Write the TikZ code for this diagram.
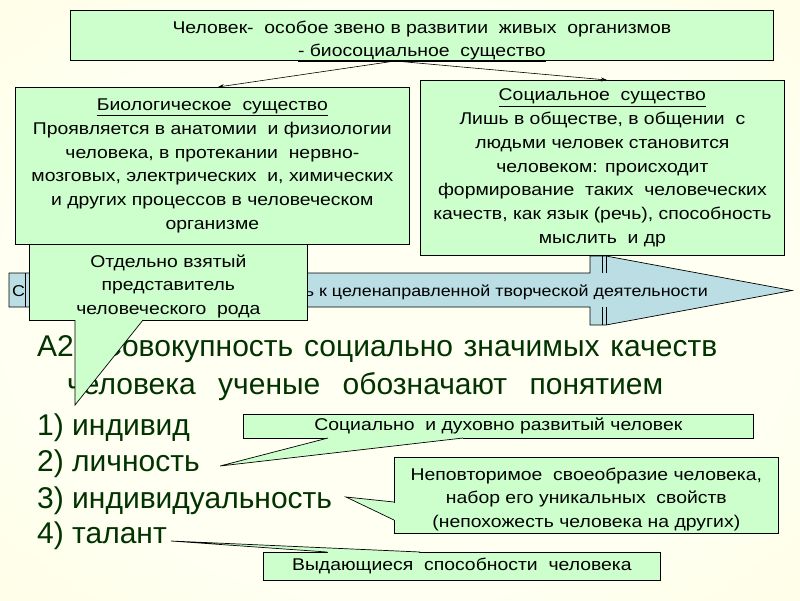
\documentclass[tikz,border=0pt]{standalone}
\usepackage{fontspec}
\setmainfont{Liberation Sans}
\newfontfamily\boxfont[FakeStretch=1.14]{Liberation Sans}
\usetikzlibrary{arrows.meta,calc}
\definecolor{boxgreen}{RGB}{204,255,204}
\definecolor{arrowblue}{RGB}{186,222,228}
\definecolor{darktext}{RGB}{0,51,0}
\definecolor{bgc}{RGB}{255,255,242}
\definecolor{bgm}{RGB}{255,253,215}
\definecolor{bge}{RGB}{252,246,160}
\pgfdeclareradialshading{bgshade}{\pgfpoint{0bp}{0bp}}{color(0bp)=(bgc); color(25bp)=(bgc); color(50bp)=(bgm); color(72bp)=(bge)}
\tikzset{
  greenbox/.style={draw=black, fill=boxgreen, line width=0.7pt, inner sep=2pt, align=center, anchor=north west,
    font=\boxfont\fontsize{17}{23.7}\selectfont},
  threeline/.style={text height=66pt, text depth=1.6pt},
  twoline/.style={text height=44pt, text depth=1.3pt},
  tailfill/.style={fill=boxgreen},
  tailline/.style={draw=black, line width=0.7pt},
  maintext/.style={text=darktext, font=\fontsize{30}{34}\selectfont, inner sep=0pt, anchor=base west},
  conn/.style={draw=black, line width=0.6pt, -{Stealth[length=6pt,width=4pt]}},
  bluearrow/.style={draw=black, fill=arrowblue, line width=0.7pt},
  arrowtext/.style={inner sep=0pt, font=\boxfont\fontsize{15.7}{18}\selectfont}
}
\begin{document}
\begin{tikzpicture}[x=1pt,y=-1pt]
\useasboundingbox (0,0) rectangle (800,600);
\shade[shading=bgshade] (0,0) rectangle (800,600);

% top box
\node[greenbox, twoline, minimum width=703pt, minimum height=50pt] (top) at (70,10)
  {Человек-\ \ особое звено в развитии\ \ живых\ \ организмов\\ \underline{- биосоциальное\ \ существо}};
\coordinate (src) at (395,61);

% biological
\node[greenbox, minimum width=394pt, minimum height=157pt] (bio) at (15,87)
  {\underline{Биологическое\ \ существо}\\Проявляется в анатомии\ \ и физиологии\\человека, в протекании\ \ нервно-\\мозговых, электрических\ \ и, химических\\и других процессов в человеческом\\организме};
% social
\node[greenbox, minimum width=364pt, minimum height=175pt] (soc) at (420,80)
  {\underline{Социальное\ \ существо}\\Лишь в обществе, в общении\ \ с\\людьми человек становится\\человеком: происходит\\формирование\ \ таких\ \ человеческих\\качеств, как язык (речь), способность\\мыслить\ \ и др};

\draw[conn] (src) -- (bio.north -| 218,0);
\draw[conn] (src) -- (soc.north -| 607,0);

% blue arrow
\path[bluearrow] (9,273) -- (590,273) -- (590,256) -- (606,256) -- (792,290.5) -- (606,325) -- (590,325) -- (590,307) -- (9,307) -- cycle;
\draw[line width=0.7pt] (602,256) -- (602,273) (602,307) -- (602,325);
\draw[line width=0.7pt] (606,256) -- (606,273) (606,307) -- (606,325);
\draw[line width=0.7pt] (25,273) -- (25,307);
\node[arrowtext, anchor=base west] (arrL) at (12,296) {С};
\node[arrowtext, anchor=base east] (arrR) at (708,296) {ь к целенаправленной творческой деятельности};

% main text
\node[maintext] (q1) at (37,356) {\makebox[680pt][s]{А2. Совокупность социально значимых качеств}};
\node[maintext] (q2) at (67,394) {\makebox[596pt][s]{человека ученые обозначают понятием}};
\node[maintext] (o1) at (37,435) {1) индивид};
\node[maintext] (o2) at (37,471) {2) личность};
\node[maintext] (o3) at (37,508) {3) индивидуальность};
\node[maintext] (o4) at (37,543) {4) талант};

% callout: individual
\node[greenbox, threeline, minimum width=278pt, minimum height=76pt] (cind) at (29,244)
  {Отдельно взятый\\представитель\\человеческого\ \ рода};
\coordinate (tind) at (75,405);
\fill[tailfill] (75,320) -- (tind) -- (143,320) -- cycle;
\fill[tailfill] (75.5,318.8) rectangle (142.3,320.6);
\draw[tailline] (75,320) -- (tind) -- (143,320);

% callout: personality
\node[greenbox, minimum width=510pt, minimum height=24pt] (cpers) at (243,414)
  {Социально\ \ и духовно развитый человек};
\coordinate (tpers) at (220,466);
\fill[tailfill] (328,438) -- (tpers) -- (463,438) -- cycle;
\fill[tailfill] (328.5,437) rectangle (462.5,438.6);
\draw[tailline] (328,438) -- (tpers) -- (463,438);

% callout: individuality
\node[greenbox, threeline, minimum width=384pt, minimum height=76pt] (cuniq) at (394,457)
  {Неповторимое\ \ своеобразие человека,\\набор его уникальных\ \ свойств\\(непохожесть человека на других)};
\coordinate (tuniq) at (346,497);
\fill[tailfill] (394,502) -- (tuniq) -- (394,520) -- cycle;
\fill[tailfill] (393.4,502.5) rectangle (395,519.5);
\draw[tailline] (394,502) -- (tuniq) -- (394,520);

% callout: talent
\node[greenbox, minimum width=397pt, minimum height=28pt] (ctal) at (263,552)
  {Выдающиеся\ \ способности\ \ человека};
\coordinate (ttal) at (171,541);
\fill[tailfill] (327,552) -- (ttal) -- (420,552) -- cycle;
\fill[tailfill] (328,551.4) rectangle (419,553);
\draw[tailline] (327,552) -- (ttal) -- (420,552);
\end{tikzpicture}
\end{document}
